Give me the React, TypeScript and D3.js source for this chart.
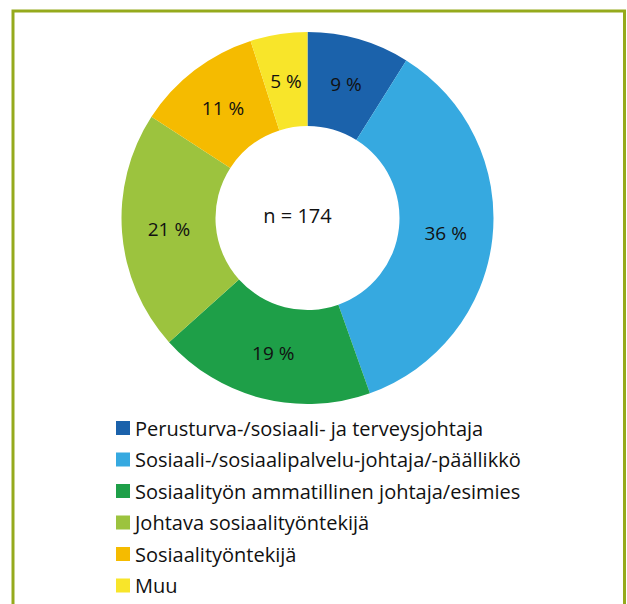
import { useEffect, useRef } from 'react';
import * as d3 from 'd3';

const categories = [
  'Perusturva-/sosiaali- ja terveysjohtaja',
  'Sosiaali-/sosiaalipalvelu-johtaja/-päällikkö',
  'Sosiaalityön ammatillinen johtaja/esimies',
  'Johtava sosiaalityöntekijä',
  'Sosiaalityöntekijä',
  'Muu',
];
const shares = [9, 36, 19, 21, 11, 5];
const colors = ['#1B62AB', '#36A9E0', '#1E9F48', '#9CC33E', '#F5BB00', '#F8E52A'];
const totalN = 174;

const W = 627;
const H = 604;

export default function App() {
  const svgRef = useRef<SVGSVGElement>(null);

  useEffect(() => {
    if (!svgRef.current) return;
    const svg = d3.select(svgRef.current);
    svg.selectAll('*').remove();

    const font = '"Open Sans", sans-serif';

    // frame
    svg.append('rect')
      .attr('x', 13).attr('y', 11)
      .attr('width', 611.5).attr('height', H + 20)
      .attr('fill', '#fff')
      .attr('stroke', '#95AA1C')
      .attr('stroke-width', 3);

    const cx = 307.5;
    const cy = 218;
    const outerR = 186;
    const innerR = 92;

    const data = categories.map((c, i) => ({ name: c, value: shares[i], color: colors[i] }));
    const pie = d3.pie<typeof data[0]>().value(d => d.value).sort(null);
    const arcs = pie(data);
    const arc = d3.arc<d3.PieArcDatum<typeof data[0]>>().innerRadius(innerR).outerRadius(outerR);

    const g = svg.append('g').attr('transform', `translate(${cx},${cy})`);

    g.selectAll('path.slice')
      .data(arcs)
      .enter()
      .append('path')
      .attr('class', 'slice')
      .attr('d', arc)
      .attr('fill', d => d.data.color);

    const labelArc = d3.arc<d3.PieArcDatum<typeof data[0]>>()
      .innerRadius((innerR + outerR) / 2)
      .outerRadius((innerR + outerR) / 2);

    g.selectAll('text.lbl')
      .data(arcs)
      .enter()
      .append('text')
      .attr('class', 'lbl')
      .attr('transform', d => `translate(${labelArc.centroid(d)})`)
      .attr('text-anchor', 'middle')
      .attr('dominant-baseline', 'central')
      .attr('font-family', font)
      .attr('font-size', 19)
      .attr('fill', '#111')
      .text(d => `${d.data.value} %`);

    g.append('text')
      .attr('x', -10).attr('y', -3)
      .attr('text-anchor', 'middle')
      .attr('dominant-baseline', 'central')
      .attr('font-family', font)
      .attr('font-size', 20)
      .attr('fill', '#111')
      .text(`n = ${totalN}`);

    // legend
    const legend = svg.append('g').attr('transform', 'translate(116,428)');
    const rowH = 31.5;
    const items = legend.selectAll('g.item')
      .data(data)
      .enter()
      .append('g')
      .attr('class', 'item')
      .attr('transform', (d, i) => `translate(0,${i * rowH})`);

    items.append('rect')
      .attr('x', 0).attr('y', -7)
      .attr('width', 14).attr('height', 14)
      .attr('fill', d => d.color);

    items.append('text')
      .attr('x', 19).attr('y', 0)
      .attr('dominant-baseline', 'central')
      .attr('font-family', font)
      .attr('font-size', 20)
      .attr('fill', '#111')
      .text(d => d.name);
  }, []);

  return (
    <div style={{ position: 'absolute', left: 0, top: 0 }}>
      <svg ref={svgRef} width={W} height={H} style={{ display: 'block' }} />
    </div>
  );
}
